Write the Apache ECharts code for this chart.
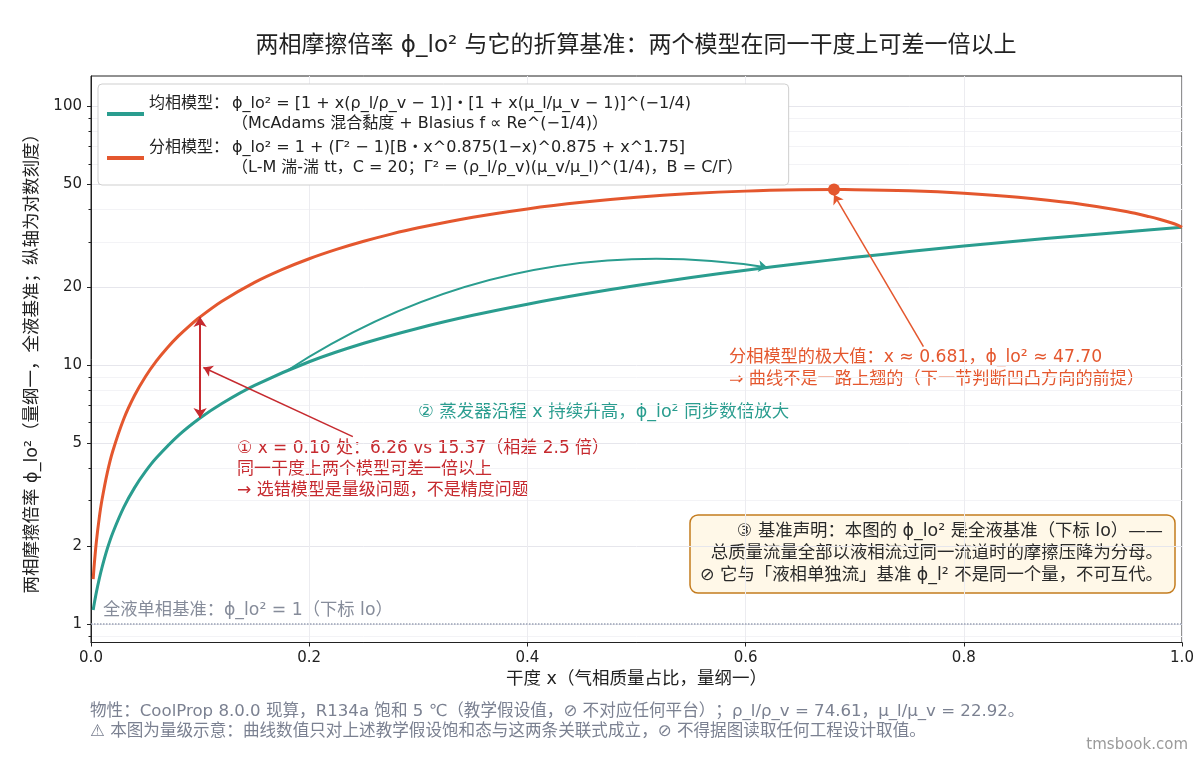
<!DOCTYPE html>
<html>
<head>
<meta charset="utf-8">
<title>两相摩擦倍率</title>
<script src="https://cdn.jsdelivr.net/npm/echarts@6/dist/echarts.min.js"></script>
<style>
  html, body { margin: 0; padding: 0; background: #fff; }
  #main { width: 1200px; height: 760px; }
</style>
</head>
<body>
<div id="main"></div>
<script>
// 均相模型 (McAdams + Blasius)
var homoX = [0.002, 0.003, 0.005, 0.0075, 0.01, 0.015, 0.02, 0.03, 0.04, 0.05, 0.06, 0.08, 0.10, 0.12, 0.15,
             0.20, 0.25, 0.30, 0.35, 0.40, 0.45, 0.50, 0.55, 0.60, 0.65, 0.70, 0.75, 0.80, 0.85, 0.90, 0.95, 1.0];
var homoY = [1.135, 1.202, 1.333, 1.494, 1.652, 1.960, 2.257, 2.828, 3.370, 3.890, 4.391, 5.348, 6.255, 7.124, 8.368,
             10.32, 12.16, 13.91, 15.60, 17.22, 18.80, 20.33, 21.82, 23.29, 24.72, 26.12, 27.50, 28.86, 30.20, 31.52, 32.82, 34.10];
// 分相模型 (L-M / Chisholm, C = 20)
var sepX = [0.002, 0.003, 0.005, 0.0075, 0.01, 0.015, 0.02, 0.03, 0.04, 0.05, 0.06, 0.07, 0.08, 0.09, 0.10, 0.12, 0.15,
            0.175, 0.20, 0.225, 0.25, 0.275, 0.30, 0.35, 0.40, 0.45, 0.50, 0.55, 0.60, 0.65, 0.681, 0.70, 0.75, 0.80,
            0.85, 0.90, 0.95, 0.97, 0.98, 0.99, 0.995, 1.0];
var sepY = [1.493, 1.702, 2.098, 2.563, 3.009, 3.858, 4.668, 6.205, 7.661, 9.056, 10.40, 11.70, 12.96, 14.18, 15.37, 17.67, 20.90,
            23.41, 25.79, 28.02, 30.13, 32.11, 33.96, 37.31, 40.18, 42.59, 44.54, 46.03, 47.06, 47.61, 47.70, 47.67, 47.21, 46.21,
            44.61, 42.31, 39.14, 37.51, 36.58, 35.52, 34.91, 34.10];

var yMajorTicks = [1, 2, 5, 10, 20, 50, 100];
var yMinorTicks = [0.9, 3, 4, 6, 7, 8, 9, 30, 40, 60, 70, 80, 90];
var xTicks = [0, 0.2, 0.4, 0.6, 0.8, 1.0];

// 标注用的点
var gapX = 0.10, gapLo = 6.26, gapHi = 15.37, gapMid = 9.81;
var peakX = 0.681, peakY = 47.70;
var trendFrom = [0.18, 9.55], trendTo = [0.62, 23.86];

var TEAL = '#2a9d8f', ORANGE = '#e4572e', RED = '#c62a2f', GRAY = '#7b8191';
var FONT = '"DejaVu Sans", "Noto Sans CJK SC", sans-serif';

function zip(xs, ys) {
    var out = [];
    for (var i = 0; i < xs.length; i++) out.push([xs[i], ys[i]]);
    return out;
}

function txt(x, y, text, size, color, align, lineHeight) {
    return {
        type: 'text', x: x, y: y, silent: true,
        style: {
            text: text, font: size + 'px ' + FONT, fill: color,
            lineHeight: lineHeight || Math.round(size * 1.3),
            align: align || 'left', verticalAlign: 'middle',
            textAlign: align || 'left', textVerticalAlign: 'middle'
        }
    };
}

var legendText = {
    '均相模型': '{t|均相模型：}{f|ϕ_lo² = [1 + x(ρ_l/ρ_v − 1)]・[1 + x(μ_l/μ_v − 1)]^(−1/4)}\n{t|}{f|（McAdams 混合黏度 + Blasius f ∝ Re^(−1/4)）}',
    '分相模型': '{t|分相模型：}{f|ϕ_lo² = 1 + (Γ² − 1)[B・x^0.875(1−x)^0.875 + x^1.75]}\n{t|}{f|（L-M 湍-湍 tt，C = 20；Γ² = (ρ_l/ρ_v)(μ_v/μ_l)^(1/4)，B = C/Γ）}'
};

var myChart = echarts.init(document.getElementById('main'));

var option = {
    animation: false,
    textStyle: { fontFamily: FONT },
    grid: {
        left: 91, right: 18, top: 76, bottom: 117.5,
        show: true, borderColor: '#222', borderWidth: 1
    },
    legend: {
        orient: 'vertical',
        left: 98, top: 84,
        padding: [12, 46, 9, 9],
        itemGap: 8,
        itemWidth: 37, itemHeight: 4,
        icon: 'rect',
        backgroundColor: '#fff',
        borderColor: '#cfcfcf', borderWidth: 1, borderRadius: 4,
        data: ['均相模型', '分相模型'],
        formatter: function (name) { return legendText[name]; },
        textStyle: {
            color: '#222',
            rich: {
                t: { fontSize: 16, width: 83, lineHeight: 20, fontFamily: FONT, color: '#222' },
                f: { fontSize: 16, lineHeight: 20, fontFamily: FONT, color: '#222' }
            }
        }
    },
    xAxis: {
        type: 'value', min: 0, max: 1, interval: 0.2,
        name: '干度 x（气相质量占比，量纲一）',
        nameLocation: 'middle', nameGap: 28,
        nameTextStyle: { fontSize: 17.5, color: '#222' },
        axisLine: { lineStyle: { color: '#222' } },
        axisTick: { show: true, length: 4, lineStyle: { color: '#222' }, customValues: xTicks },
        axisLabel: { fontSize: 15, color: '#222', margin: 8, formatter: function (v) { return v.toFixed(1); }, customValues: xTicks },
        splitLine: { show: true, lineStyle: { color: '#ececf0' } }
    },
    yAxis: [{
        type: 'log', logBase: 10, min: 0.85, max: 131,
        position: 'left',
        name: '两相摩擦倍率 ϕ_lo²（量纲一，全液基准；纵轴为对数刻度）',
        nameLocation: 'middle', nameGap: 50,
        nameTextStyle: { fontSize: 17.5, color: '#222' },
        axisLine: { show: true, lineStyle: { color: '#222' } },
        axisTick: { show: true, length: 4, lineStyle: { color: '#222' }, customValues: yMajorTicks },
        axisLabel: { fontSize: 15, color: '#222', margin: 9, customValues: yMajorTicks, formatter: function (v) { return String(Math.round(v)); } },
        splitLine: { show: true, lineStyle: { color: '#e6e6ec' } }
    }, {
        type: 'log', logBase: 10, min: 0.85, max: 131,
        position: 'left', offset: 0,
        axisLine: { show: false },
        axisTick: { show: true, length: 2.5, lineStyle: { color: '#222' }, customValues: yMinorTicks },
        axisLabel: { show: false },
        splitLine: { show: true, lineStyle: { color: '#f3f3f6' } }
    }],
    series: [{
        name: '均相模型',
        type: 'line',
        data: zip(homoX, homoY),
        showSymbol: false,
        smooth: 0.3,
        lineStyle: { color: TEAL, width: 3 },
        itemStyle: { color: TEAL },
        z: 3,
        markLine: {
            silent: true,
            symbol: 'none',
            label: { show: false },
            lineStyle: { color: '#9ba3b5', type: 'dotted', width: 1.5 },
            data: [{ yAxis: 1 }]
        }
    }, {
        name: '分相模型',
        type: 'line',
        data: zip(sepX, sepY),
        showSymbol: false,
        smooth: 0.3,
        lineStyle: { color: ORANGE, width: 3 },
        itemStyle: { color: ORANGE },
        z: 4,
        markPoint: {
            silent: true,
            symbol: 'circle', symbolSize: 12,
            label: { show: false },
            itemStyle: { color: ORANGE },
            data: [{ coord: [peakX, peakY] }]
        }
    }, {
        // 弯箭头：沿程 x 升高
        type: 'lines', coordinateSystem: 'cartesian2d', silent: true, z: 5,
        symbol: ['none', 'arrow'], symbolSize: 9,
        lineStyle: { color: TEAL, width: 2, opacity: 1, curveness: 0.19 },
        data: [{ coords: [trendFrom, trendTo] }]
    }, {
        // x = 0.10 处两个模型的差距
        type: 'lines', coordinateSystem: 'cartesian2d', silent: true, z: 5,
        symbol: ['arrow', 'arrow'], symbolSize: 10,
        lineStyle: { color: RED, width: 2, opacity: 1 },
        data: [{ coords: [[gapX, gapHi], [gapX, gapLo]] }]
    }, {
        type: 'lines', coordinateSystem: 'cartesian2d', silent: true, z: 5,
        symbol: ['none', 'arrow'], symbolSize: 9,
        lineStyle: { width: 1.5, opacity: 1 },
        data: [
            { coords: [[0.24, 5.30], [gapX + 0.003, gapMid]], lineStyle: { color: RED } },
            { coords: [[0.763, 11.8], [peakX, 45.6]], lineStyle: { color: ORANGE } }
        ]
    }],
    graphic: [
        txt(636, 46, '两相摩擦倍率 ϕ_lo² 与它的折算基准：两个模型在同一干度上可差一倍以上', 23, '#222', 'center'),
        txt(237, 470, '① x = 0.10 处：6.26 vs 15.37（相差 2.5 倍）\n同一干度上两个模型可差一倍以上\n→ 选错模型是量级问题，不是精度问题', 17, RED, 'left', 21),
        txt(418, 412, '② 蒸发器沿程 x 持续升高，ϕ_lo² 同步数倍放大', 17.5, TEAL, 'left'),
        txt(729, 369, '分相模型的极大值：x ≈ 0.681，ϕ_lo² ≈ 47.70\n⇒ 曲线不是一路上翘的（下一节判断凹凸方向的前提）', 17.2, ORANGE, 'left', 22),
        txt(103, 611, '全液单相基准：ϕ_lo² = 1（下标 lo）', 17.3, '#868c9a', 'left'),
        {
            type: 'rect', silent: true, shape: { x: 690, y: 515, width: 485, height: 78, r: 8 },
            style: { fill: '#fff8e8', stroke: '#c47c1e', lineWidth: 1.5 }
        },
        txt(1163, 553, '③ 基准声明：本图的 ϕ_lo² 是全液基准（下标 lo）——\n总质量流量全部以液相流过同一流道时的摩擦压降为分母。\n⊘ 它与「液相单独流」基准 ϕ_l² 不是同一个量，不可互代。', 17.4, '#2a2a2a', 'right', 22),
        txt(90, 722, '物性：CoolProp 8.0.0 现算，R134a 饱和 5 ℃（教学假设值，⊘ 不对应任何平台）；ρ_l/ρ_v = 74.61，μ_l/μ_v = 22.92。\n⚠ 本图为量级示意：曲线数值只对上述教学假设饱和态与这两条关联式成立，⊘ 不得据图读取任何工程设计取值。', 16.6, GRAY, 'left', 20),
        txt(1188, 745, 'tmsbook.com', 15, '#9a9a9a', 'right')
    ]
};

myChart.setOption(option);
</script>
</body>
</html>
